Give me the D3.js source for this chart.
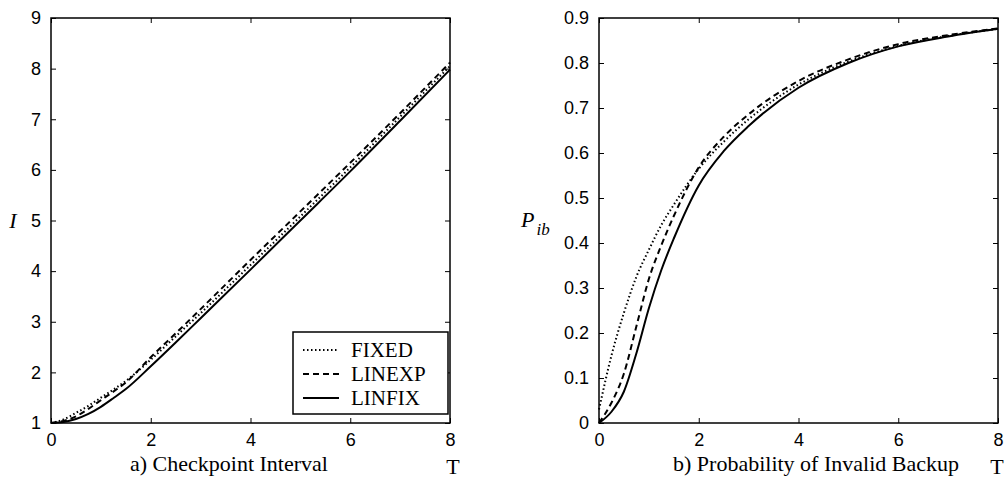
<!DOCTYPE html>
<html>
<head>
<meta charset="utf-8">
<script src="https://cdn.jsdelivr.net/npm/d3@7"></script>
<style>
  body { margin: 0; background: #fff; }
  svg { display: block; }
  .tick text { font-family: "Liberation Sans", Arial, sans-serif; font-size: 18px; fill: #000; }
  .lbl { font-family: "Liberation Serif", "Times New Roman", serif; fill: #000; }
</style>
</head>
<body>
<svg id="chart" width="1006" height="483"></svg>
<script>
// T values used by both panels
const tValues = [0, 0.25, 0.5, 0.75, 1, 1.25, 1.5, 2, 2.5, 3, 4, 5, 6, 7, 8];

// a) checkpoint interval I
const intervalFixed  = [1.0, 1.07, 1.2, 1.34, 1.5, 1.66, 1.83, 2.25, 2.71, 3.17, 4.12, 5.08, 6.05, 7.05, 8.05];
const intervalLinexp = [1.0, 1.04, 1.13, 1.28, 1.45, 1.62, 1.8, 2.3, 2.77, 3.25, 4.22, 5.18, 6.14, 7.12, 8.12];
const intervalLinfix = [1.0, 1.02, 1.08, 1.18, 1.32, 1.49, 1.67, 2.12, 2.59, 3.07, 4.03, 5.0, 5.97, 6.97, 7.98];

// b) probability of invalid backup Pib
const probFixed  = [0.03, 0.15, 0.245, 0.325, 0.385, 0.44, 0.485, 0.565, 0.625, 0.675, 0.752, 0.803, 0.838, 0.86, 0.876];
const probLinexp = [0.0, 0.045, 0.11, 0.215, 0.32, 0.395, 0.46, 0.568, 0.636, 0.686, 0.76, 0.808, 0.842, 0.862, 0.877];
const probLinfix = [0.0, 0.025, 0.07, 0.155, 0.255, 0.34, 0.41, 0.528, 0.604, 0.66, 0.745, 0.8, 0.837, 0.859, 0.876];

const seriesNames = ["FIXED", "LINEXP", "LINFIX"];
const dashes = ["1.5,2.5", "6,4", null];

const xTicks = [0, 2, 4, 6, 8];
const leftTicks = [1, 2, 3, 4, 5, 6, 7, 8, 9];
const rightTicks = [0, 0.1, 0.2, 0.3, 0.4, 0.5, 0.6, 0.7, 0.8, 0.9];

const svg = d3.select("#chart");

function drawPanel(opts) {
  const x = d3.scaleLinear().domain([0, 8]).range([opts.left, opts.right]);
  const y = d3.scaleLinear().domain(opts.yDomain).range([423, 18]);
  const g = svg.append("g");

  // axes with inward ticks on all four sides
  const ax = (axis, tr) => g.append("g").attr("transform", tr).call(axis)
    .call(s => s.select(".domain").remove())
    .call(s => s.selectAll(".tick line").attr("stroke", "#000").attr("stroke-width", 1));

  ax(d3.axisBottom(x).tickValues(xTicks).tickSizeInner(-5).tickPadding(10).tickFormat(d3.format("d")), `translate(0,${y.range()[0]})`);
  ax(d3.axisTop(x).tickValues(xTicks).tickSizeInner(-5).tickFormat(""), `translate(0,${y.range()[1]})`);
  ax(d3.axisLeft(y).tickValues(opts.yTicks).tickSizeInner(-5).tickPadding(10).tickFormat(opts.fmt), `translate(${opts.left},0)`);
  ax(d3.axisRight(y).tickValues(opts.yTicks).tickSizeInner(-5).tickFormat(""), `translate(${opts.right},0)`);

  g.selectAll(".tick text").attr("fill", "#000");

  // box
  g.append("rect")
    .attr("x", opts.left).attr("y", 18)
    .attr("width", opts.right - opts.left).attr("height", 405)
    .attr("fill", "none").attr("stroke", "#000").attr("stroke-width", 1.5);

  const line = d3.line()
    .x((d, i) => x(tValues[i]))
    .y(d => y(d))
    .curve(d3.curveMonotoneX);

  opts.series.forEach((s, i) => {
    g.append("path")
      .attr("d", line(s))
      .attr("fill", "none")
      .attr("stroke", "#000")
      .attr("stroke-width", 2)
      .attr("stroke-dasharray", dashes[i]);
  });

  g.append("text").attr("class", "lbl")
    .attr("x", opts.titleX).attr("y", 471)
    .attr("font-size", 22)
    .text(opts.title);

  g.append("text").attr("class", "lbl")
    .attr("x", opts.tX).attr("y", 474)
    .attr("text-anchor", "middle")
    .attr("font-size", 22)
    .text("T");

  return { x, y, g };
}

drawPanel({
  left: 51, right: 450, yDomain: [1, 9], yTicks: leftTicks, fmt: d3.format("d"),
  series: [intervalFixed, intervalLinexp, intervalLinfix],
  title: "a) Checkpoint Interval", titleX: 130, tX: 453
});

drawPanel({
  left: 599, right: 998, yDomain: [0, 0.9], yTicks: rightTicks,
  fmt: d => d === 0 ? "0" : d3.format(".1f")(d),
  series: [probFixed, probLinexp, probLinfix],
  title: "b) Probability of Invalid Backup", titleX: 673, tX: 997
});

// y labels
svg.append("text").attr("class", "lbl")
  .attr("x", 13).attr("y", 228)
  .attr("text-anchor", "middle")
  .attr("font-size", 22).attr("font-style", "italic")
  .text("I");

const pib = svg.append("text").attr("class", "lbl")
  .attr("x", 521).attr("y", 227)
  .attr("font-size", 22).attr("font-style", "italic");
pib.append("tspan").text("P");
pib.append("tspan").attr("dy", 8).attr("dx", 2).attr("font-size", 17).text("ib");

// legend
const legend = svg.append("g").attr("transform", "translate(293,332)");
legend.append("rect")
  .attr("width", 155).attr("height", 82)
  .attr("fill", "#fff").attr("stroke", "#000").attr("stroke-width", 1.5);

seriesNames.forEach((name, i) => {
  const yy = 18 + i * 24;
  legend.append("line")
    .attr("x1", 10).attr("x2", 46).attr("y1", yy).attr("y2", yy)
    .attr("stroke", "#000").attr("stroke-width", 2)
    .attr("stroke-dasharray", dashes[i]);
  legend.append("text").attr("class", "lbl")
    .attr("x", 58).attr("y", yy + 7)
    .attr("font-size", 21)
    .text(name);
});
</script>
</body>
</html>
